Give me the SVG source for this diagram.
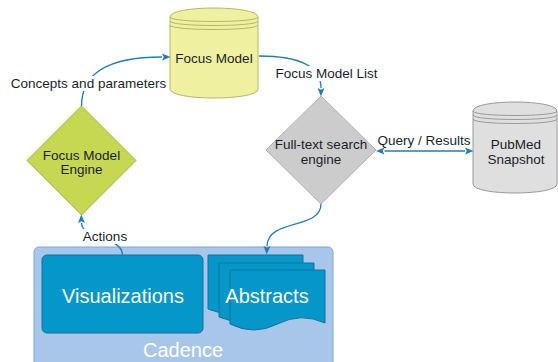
<svg xmlns="http://www.w3.org/2000/svg" width="558" height="362" viewBox="0 0 558 362">
<style>
text{font-family:"Liberation Sans",Arial,sans-serif;}
.lbl{font-size:13.5px;fill:#1a1f2b;text-anchor:middle;}
.big{font-size:20px;fill:#ffffff;text-anchor:middle;}
.edge{fill:none;stroke:#1f7db9;stroke-width:1.3;}
.bg{fill:#ffffff;}
.page{fill:#0597c9;stroke:#10739e;stroke-width:1;}
</style>
<defs>
<marker id="arr" markerUnits="userSpaceOnUse" markerWidth="9" markerHeight="8" refX="0" refY="3.5" orient="auto-start-reverse" viewBox="0 0 9 7">
<path d="M0,0 L8.5,3.5 L0,7 L1.8,3.5 z" fill="#1f7db9"/>
</marker>
</defs>

<g id="cadence">
<rect x="34" y="247" width="299" height="125" rx="5" fill="#a8c6ea" stroke="#7ea6e0" stroke-width="1"/>
<text class="big" x="183" y="357">Cadence</text>
</g>

<g id="visualizations">
<rect x="42" y="255" width="161" height="78" rx="5" class="page"/>
<text class="big" x="123" y="303">Visualizations</text>
</g>

<g id="abstracts">
<path class="page" d="M208,255 H303 V309 Q279,299 255.5,309 Q232,319 208,309 Z"/>
<path class="page" d="M219,263 H314 V317 Q290,307 266.5,317 Q243,327 219,317 Z"/>
<path class="page" d="M230,270 H325 V323 Q301,312 277.5,324 Q254,336 230,324 Z"/>
<text class="big" x="267" y="303">Abstracts</text>
</g>

<g id="focus-model">
<path d="M170,17 C170,5 258,5 258,17 V89 C258,101 170,101 170,89 Z" fill="#eff1a1" stroke="#b6b868"/>
<path d="M170,17 C170,23 258,23 258,17 M170,21 C170,27 258,27 258,21 M170,25 C170,31 258,31 258,25" fill="none" stroke="#b6b868"/>
<text class="lbl" x="214" y="63">Focus Model</text>
</g>

<g id="pubmed">
<path d="M473,111 C473,99 557,99 557,111 V184 C557,196 473,196 473,184 Z" fill="#dfdfdf" stroke="#9a9a9a"/>
<path d="M473,111 C473,117 557,117 557,111 M473,115 C473,121 557,121 557,115 M473,119 C473,125 557,125 557,119" fill="none" stroke="#9a9a9a"/>
<text class="lbl" x="516" y="149">PubMed</text>
<text class="lbl" x="516" y="164">Snapshot</text>
</g>

<g id="focus-model-engine">
<polygon points="81.5,106 136,160.5 81.5,215 27,160.5" fill="#c6d752" stroke="#a0b43a" stroke-width="1"/>
<text class="lbl" x="81.5" y="160">Focus Model</text>
<text class="lbl" x="81.5" y="174">Engine</text>
</g>

<g id="full-text-search">
<polygon points="321,96 376,150 321,204 266,150" fill="#cccccc" stroke="#b3b3b3" stroke-width="1"/>
<text class="lbl" x="321" y="149">Full-text search</text>
<text class="lbl" x="321" y="164">engine</text>
</g>

<g id="connectors">
<path class="edge" d="M81.5,106 C81.5,75 105,57 162,57" marker-end="url(#arr)"/>
<rect class="bg" x="9" y="76" width="159" height="15"/>
<text class="lbl" x="88.5" y="88">Concepts and parameters</text>

<path class="edge" d="M259,56 C290,56 321,62 321,88" marker-end="url(#arr)"/>
<rect class="bg" x="274" y="66" width="106" height="15"/>
<text class="lbl" x="326.5" y="78">Focus Model List</text>

<path class="edge" d="M384.5,151 H465" marker-start="url(#arr)" marker-end="url(#arr)"/>
<text class="lbl" x="424" y="145">Query / Results</text>

<path class="edge" d="M321,204 C321,230 268,218 267,246" marker-end="url(#arr)"/>

<path class="edge" d="M122.5,255 C122,236 82,240 81.5,223" marker-end="url(#arr)"/>
<rect class="bg" x="82" y="229" width="46" height="15"/>
<text class="lbl" x="105" y="241">Actions</text>
</g>
</svg>
